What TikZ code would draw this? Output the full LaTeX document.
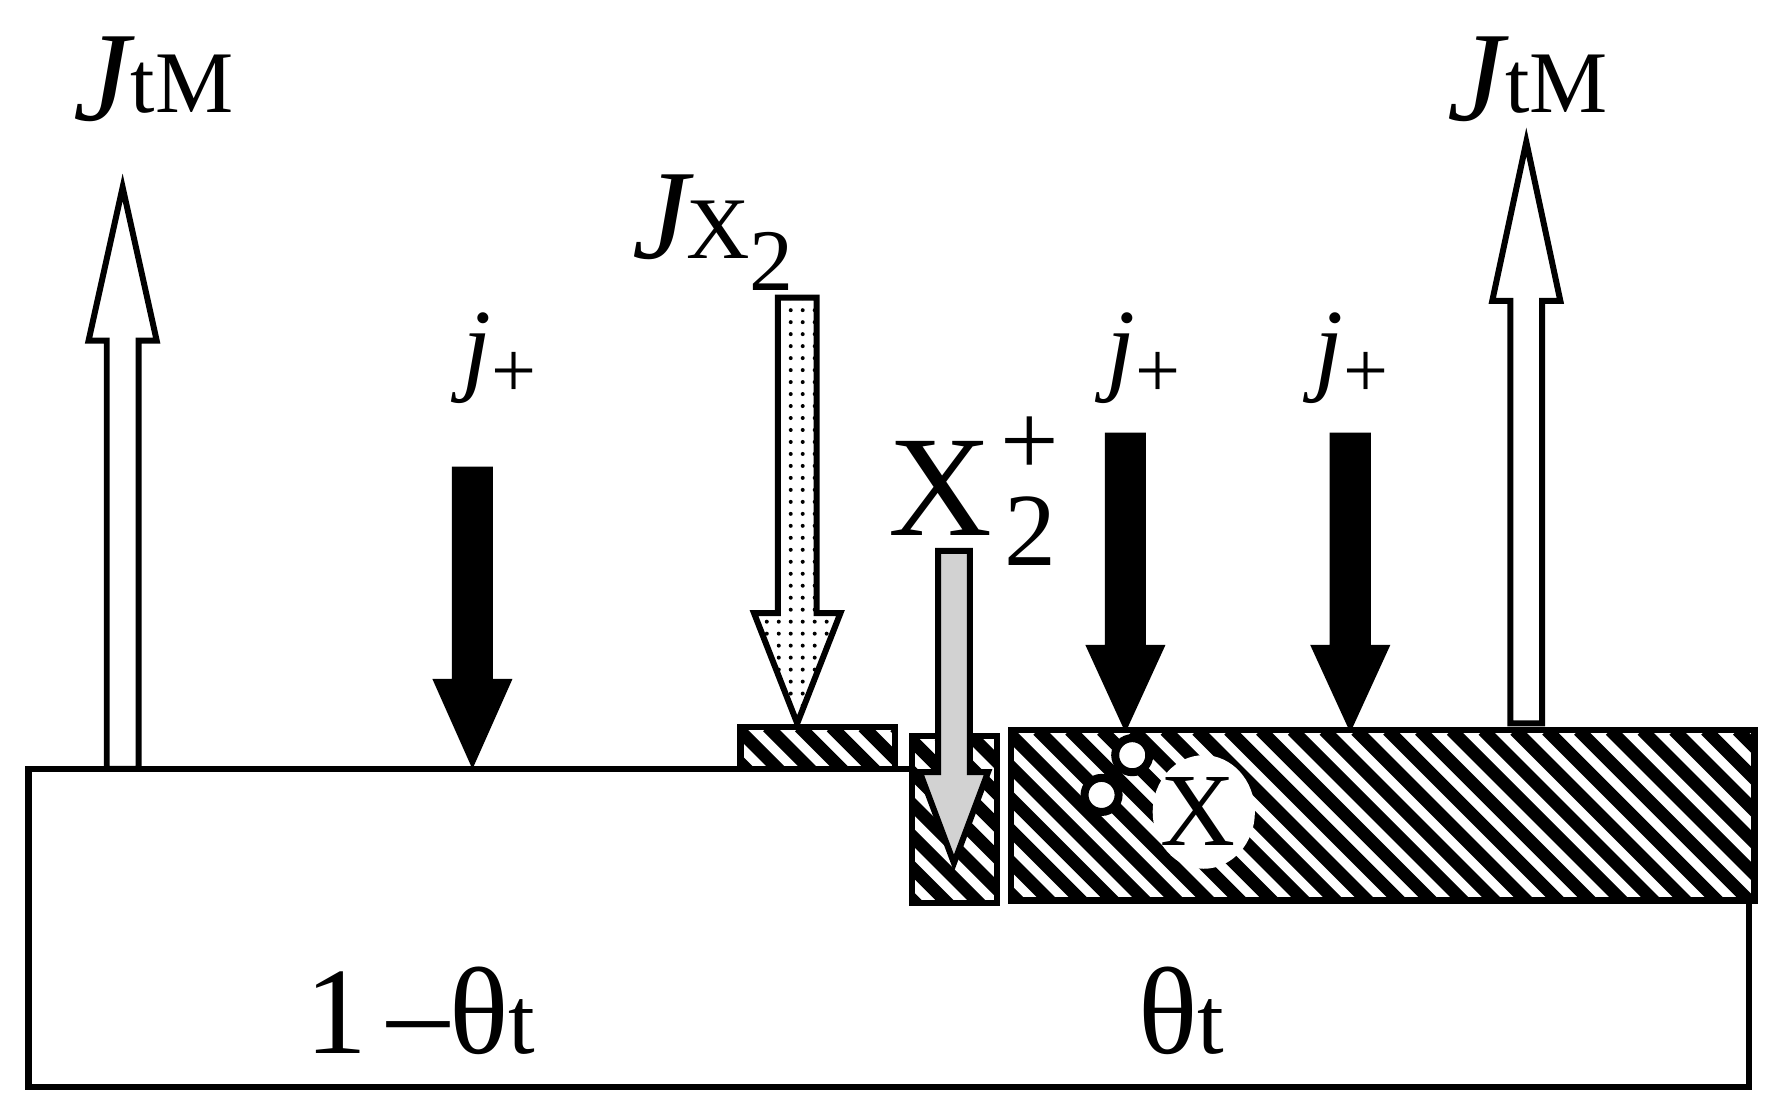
\documentclass[tikz,border=0pt]{standalone}
\usepackage{fontspec}
\setmainfont{Liberation Serif}
\usetikzlibrary{patterns}
\newcommand\barrow[7]{% style, x, ytail, yheadbase, ytip, halfshaft, halfhead
  \draw[#1] (#2-#6,#3) -- (#2+#6,#3) -- (#2+#6,#4) -- (#2+#7,#4) -- (#2,#5) -- (#2-#7,#4) -- (#2-#6,#4) -- cycle;}
\newcommand\hatchbox[4]{%
  \begin{scope}
    \clip (#1,#2) rectangle (#3,#4);
    \foreach \k in {-200,-172,...,800} {\draw[line width=3.2pt] (#1+\k,#2) -- ++(200,200);}
  \end{scope}
  \draw[line width=1.6pt] (#1,#2) rectangle (#3,#4);}
\begin{document}
\begin{tikzpicture}[x=0.01cm,y=-0.01cm,line width=1.2pt,
  lab/.style={font=\fontsize{26}{30}\selectfont,inner sep=0pt}]
\useasboundingbox (0,0) rectangle (1563,980);
\fill[white] (0,0) rectangle (1563,980);
% base
\draw[line width=1.6pt] (805,677) -- (25,677) -- (25,957) -- (1540,957) -- (1540,793);
\hatchbox{652}{640}{788}{677}
\hatchbox{803}{648}{878}{795}
\hatchbox{890}{643}{1545}{793}
% open arrows
\barrow{draw,fill=white,line width=1.5pt}{108}{677}{300}{165}{14}{30}
\barrow{draw,fill=white,line width=1.5pt}{1344}{637}{265}{125}{14}{30}
% black arrows
\barrow{fill=black}{416}{413}{600}{672}{16}{32}
\barrow{fill=black}{991}{383}{570}{640}{16}{32}
\barrow{fill=black}{1189}{383}{570}{640}{16}{32}
% dotted
\barrow{draw,pattern=dots,line width=1.5pt}{702}{262}{540}{637}{17}{38}
% gray
\barrow{draw,fill=gray!35,line width=1.5pt}{840}{485}{680}{760}{14}{30}
% X blob and circles
\fill[white] (1060,715) ellipse (45 and 50);
\node[lab] (x) at (1055,715) {X};
\draw[fill=white,line width=2pt] (997,665) circle (15);
\draw[fill=white,line width=2pt] (970,700) circle (15);
% labels
\node[lab] (j1) at (135,70) {\fontsize{32}{32}\selectfont\textit{J}\kern-1pt\raisebox{2pt}{\fontsize{22}{22}\selectfont tM}};
\node[lab] (j2) at (1345,70) {\fontsize{32}{32}\selectfont\textit{J}\kern-1pt\raisebox{2pt}{\fontsize{22}{22}\selectfont tM}};
\node[lab] (jx) at (628,205) {\fontsize{32}{32}\selectfont\textit{J}\kern-2pt{\fontsize{22}{22}\selectfont X}\raisebox{-8pt}{\fontsize{22}{22}\selectfont 2}};
\node[lab] (p1) at (440,315) {\textit{j}\raisebox{-4pt}{\fontsize{20}{20}\selectfont +}};
\node[lab] (p2) at (1007,315) {\textit{j}\raisebox{-4pt}{\fontsize{20}{20}\selectfont +}};
\node[lab] (p3) at (1190,315) {\textit{j}\raisebox{-4pt}{\fontsize{20}{20}\selectfont +}};
\node[inner sep=0pt,font=\fontsize{36}{40}\selectfont] (x2) at (828,430) {X};
\node[inner sep=0pt,font=\fontsize{26}{30}\selectfont] (x2a) at (907,393) {+};
\node[inner sep=0pt,font=\fontsize{26}{30}\selectfont] (x2b) at (907,468) {2};
\node[lab] (t1) at (370,890) {\fontsize{31}{31}\selectfont 1\,–θ\fontsize{24}{24}\selectfont t};
\node[lab] (t2) at (1040,890) {\fontsize{31}{31}\selectfont θ\fontsize{24}{24}\selectfont t};
\end{tikzpicture}
\end{document}
